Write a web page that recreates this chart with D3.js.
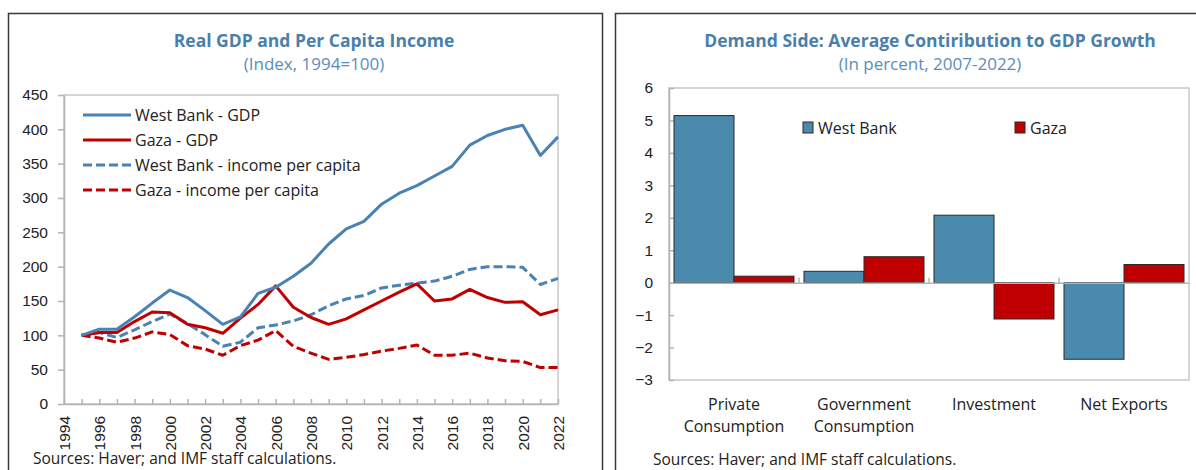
<!DOCTYPE html>
<html>
<head>
<meta charset="utf-8">
<script src="https://cdn.jsdelivr.net/npm/d3@7"></script>
<style>
  body { margin: 0; background: #fff; }
  svg { font-family: "Open Sans", "Noto Sans", sans-serif; }
  .tick text { font-size: 15.5px; fill: #222; }
  .title { font-size: 17.5px; font-weight: 700; fill: #4a7fab; }
  .subtitle { font-size: 17px; fill: #5a8dba; }
  .note { font-size: 15.5px; fill: #222; }
</style>
</head>
<body>
<div id="chart"></div>
<script>
const w = 1196,
      h = 470;

// left panel data
const years = [1995, 1996, 1997, 1998, 1999, 2000, 2001, 2002, 2003, 2004, 2005, 2006, 2007, 2008,
               2009, 2010, 2011, 2012, 2013, 2014, 2015, 2016, 2017, 2018, 2019, 2020, 2021, 2022];
const wbGdp    = [100, 109, 109, 127, 147, 166, 155, 136, 116, 127, 161, 170, 186, 205,
                  233, 255, 266, 291, 307, 318, 332, 346, 377, 391, 400, 406, 362, 389];
const gazaGdp  = [100, 104, 104, 120, 134, 133, 116, 111, 103, 125, 145, 172, 141, 126,
                  116, 124, 137, 150, 163, 175, 150, 153, 167, 155, 148, 149, 130, 137];
const wbInc    = [100, 104, 97, 108, 120, 131, 117, 101, 84, 90, 111, 115, 121, 130,
                  143, 153, 158, 169, 173, 176, 179, 186, 196, 200, 200, 199, 174, 183];
const gazaInc  = [100, 96, 90, 96, 105, 101, 85, 80, 71, 85, 93, 107, 84, 74,
                  65, 68, 72, 77, 81, 86, 71, 71, 74, 67, 63, 62, 53, 53];
const yearTicks = [1994, 1995, 1996, 1997, 1998, 1999, 2000, 2001, 2002, 2003, 2004, 2005, 2006, 2007, 2008,
                   2009, 2010, 2011, 2012, 2013, 2014, 2015, 2016, 2017, 2018, 2019, 2020, 2021, 2022];
const indexTicks = [0, 50, 100, 150, 200, 250, 300, 350, 400, 450];

// right panel data
const categories = ["Private Consumption", "Government Consumption", "Investment", "Net Exports"];
const catLabels = [["Private", "Consumption"], ["Government", "Consumption"], ["Investment"], ["Net Exports"]];
const regions = ["West Bank", "Gaza"];
const wbContrib   = [5.15, 0.35, 2.08, -2.36];
const gazaContrib = [0.2, 0.8, -1.12, 0.56];
const pctTicks = [-3, -2, -1, 0, 1, 2, 3, 4, 5, 6];

const blue = "#4a82b4", red = "#c00000", axisGray = "#b3b3b3";
const barBlue = "#4a8aad", barRed = "#c00000";

const svg = d3.select("#chart").append("svg")
    .attr("width", w)
    .attr("height", h);

// panel frames
svg.append("rect").attr("x", 8.5).attr("y", 13.5).attr("width", 594).attr("height", 480)
   .attr("fill", "none").attr("stroke", "#3a3a3a").attr("stroke-width", 1.5);
svg.append("rect").attr("x", 615.5).attr("y", 13.5).attr("width", 600).attr("height", 480)
   .attr("fill", "none").attr("stroke", "#3a3a3a").attr("stroke-width", 1.5);

// ---------- left: lines ----------
const x = d3.scaleLinear().domain([1994, 2022]).range([64, 558]);
const y = d3.scaleLinear().domain([0, 450]).range([404, 95]);

svg.append("text").attr("class", "title").attr("x", 314).attr("y", 47).attr("text-anchor", "middle")
   .text("Real GDP and Per Capita Income");
svg.append("text").attr("class", "subtitle").attr("x", 314).attr("y", 70).attr("text-anchor", "middle")
   .text("(Index, 1994=100)");

svg.append("rect").attr("x", 64).attr("y", 95).attr("width", 494).attr("height", 309)
   .attr("fill", "none").attr("stroke", "#c8c8c8").attr("stroke-width", 1.5);

const yAxisL = svg.append("g").attr("transform", "translate(64,0)")
    .call(d3.axisLeft(y).tickValues(indexTicks).tickSize(6).tickSizeOuter(0).tickPadding(10));
yAxisL.selectAll("line, path").attr("stroke", axisGray).attr("stroke-width", 1.5);

const xAxisL = svg.append("g").attr("transform", "translate(0,404)")
    .call(d3.axisBottom(x).tickValues(yearTicks).tickSizeInner(-5).tickSizeOuter(0)
          .tickFormat(d => d % 2 === 0 ? d : ""));
xAxisL.selectAll("line, path").attr("stroke", axisGray).attr("stroke-width", 1.5);
xAxisL.selectAll("text")
    .attr("transform", "rotate(-90)")
    .attr("text-anchor", "end")
    .attr("x", -12).attr("y", 0).attr("dy", "0.35em");

const series = [
  {name: "West Bank - GDP", values: wbGdp, color: blue, dash: null},
  {name: "Gaza - GDP", values: gazaGdp, color: red, dash: null},
  {name: "West Bank - income per capita", values: wbInc, color: blue, dash: "9,4"},
  {name: "Gaza - income per capita", values: gazaInc, color: red, dash: "9,4"}
];
const line = d3.line().x((d, i) => x(years[i])).y(d => y(d));

// draw dashed first so solid sit on top
[2, 3, 1, 0].forEach(k => {
  const s = series[k];
  svg.append("path").datum(s.values)
     .attr("d", line).attr("fill", "none")
     .attr("stroke", s.color).attr("stroke-width", 3)
     .attr("stroke-dasharray", s.dash)
     .attr("stroke-linejoin", "round");
});

const legL = svg.append("g").attr("transform", "translate(83,115)");
series.forEach((s, i) => {
  const g = legL.append("g").attr("transform", `translate(0,${i * 25})`);
  g.append("line").attr("x1", 0).attr("x2", 48).attr("y1", 0).attr("y2", 0)
   .attr("stroke", s.color).attr("stroke-width", 3).attr("stroke-dasharray", s.dash);
  g.append("text").attr("class", "note").attr("x", 52).attr("y", 0).attr("dy", "0.35em")
   .style("font-size", "16px").text(s.name);
});

svg.append("text").attr("class", "note").attr("x", 33).attr("y", 464)
   .text("Sources: Haver; and IMF staff calculations.");

// ---------- right: bars ----------
const x0 = d3.scaleBand().domain(categories).range([669, 1189]);
const x1 = d3.scaleBand().domain(regions).range([5, x0.bandwidth() - 5]);
const yR = d3.scaleLinear().domain([-3, 6]).range([380, 88]);

svg.append("text").attr("class", "title").attr("x", 930).attr("y", 47).attr("text-anchor", "middle")
   .text("Demand Side: Average Contiribution to GDP Growth");
svg.append("text").attr("class", "subtitle").attr("x", 930).attr("y", 70).attr("text-anchor", "middle")
   .text("(In percent, 2007-2022)");

svg.append("rect").attr("x", 669).attr("y", 88).attr("width", 520).attr("height", 292)
   .attr("fill", "none").attr("stroke", "#c8c8c8").attr("stroke-width", 1.5);

const yAxisR = svg.append("g").attr("transform", "translate(669,0)")
    .call(d3.axisLeft(yR).tickValues(pctTicks).tickSizeInner(-5).tickSizeOuter(0).tickPadding(16));
yAxisR.selectAll("line, path").attr("stroke", axisGray).attr("stroke-width", 1.5);

const barData = [
  {region: "West Bank", values: wbContrib, color: barBlue},
  {region: "Gaza", values: gazaContrib, color: barRed}
];
barData.forEach(b => {
  svg.append("g").selectAll("rect")
     .data(b.values)
     .join("rect")
     .attr("x", (d, i) => x0(categories[i]) + x1(b.region))
     .attr("y", d => yR(Math.max(0, d)))
     .attr("width", x1.bandwidth())
     .attr("height", d => Math.abs(yR(d) - yR(0)))
     .attr("fill", b.color)
     .attr("stroke", "#2b2b2b").attr("stroke-width", 1);
});

// zero line with category separators
const xAxisR = svg.append("g").attr("transform", `translate(0,${yR(0)})`)
    .call(d3.axisBottom(x0).tickSize(0).tickFormat(""));
xAxisR.select("path").attr("stroke", axisGray).attr("stroke-width", 1.5);
svg.append("g").selectAll("line")
   .data(categories.slice(1))
   .join("line")
   .attr("x1", d => x0(d)).attr("x2", d => x0(d))
   .attr("y1", yR(0) - 5).attr("y2", yR(0))
   .attr("stroke", axisGray).attr("stroke-width", 1.5);

catLabels.forEach((lines, i) => {
  const t = svg.append("text").attr("class", "note").attr("text-anchor", "middle")
     .attr("x", x0(categories[i]) + x0.bandwidth() / 2).attr("y", 410)
     .style("font-size", "16px");
  lines.forEach((l, j) => t.append("tspan").attr("x", x0(categories[i]) + x0.bandwidth() / 2)
     .attr("dy", j === 0 ? 0 : 22).text(l));
});

const legR = [{label: "West Bank", color: barBlue, x: 803}, {label: "Gaza", color: barRed, x: 1015}];
legR.forEach(l => {
  svg.append("rect").attr("x", l.x).attr("y", 122).attr("width", 10).attr("height", 11)
     .attr("fill", l.color).attr("stroke", "#2b2b2b").attr("stroke-width", 1);
  svg.append("text").attr("class", "note").attr("x", l.x + 15).attr("y", 128).attr("dy", "0.35em")
     .style("font-size", "16px").text(l.label);
});

svg.append("text").attr("class", "note").attr("x", 653).attr("y", 465)
   .text("Sources: Haver; and IMF staff calculations.");
</script>
</body>
</html>
